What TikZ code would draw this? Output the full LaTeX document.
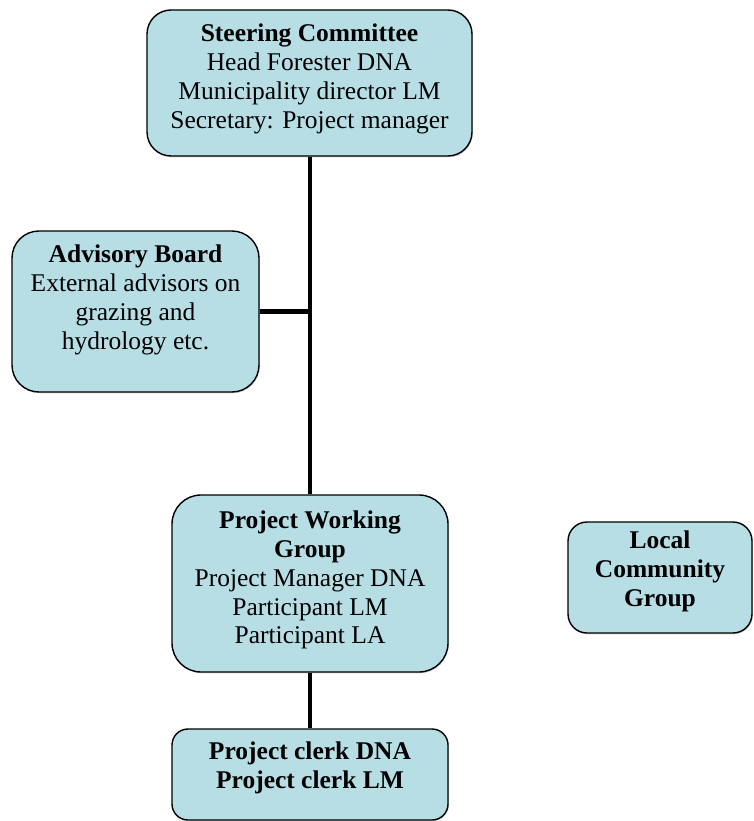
\documentclass[tikz,border=0pt]{standalone}
\usepackage{fontspec}
\setmainfont{Liberation Serif}
\usetikzlibrary{calc,positioning,shadows}
\definecolor{boxblue}{RGB}{183,222,228}
% box text: width, height, top padding, lines
\newcommand{\unittext}[4]{\parbox[c][#2][t]{#1}{\centering\vspace*{#3}#4\par}}

\begin{document}
\begin{tikzpicture}
[x=1pt,y=-1pt,
 unit/.style = {draw=black, line width=1.4pt, fill=boxblue, inner sep=0pt,
   drop shadow={shadow xshift=0.8pt, shadow yshift=-1.3pt, opacity=0.35},
   font=\fontsize{25.5}{28.8}\selectfont},
 link/.style = {line width=4.6pt},]
\useasboundingbox (0,0) rectangle (753,821);
\node (steer) at (309.5,83)[unit,rounded corners=24pt] {\unittext{325pt}{146pt}{14pt}{\textbf{Steering Committee}\\Head Forester DNA\\Municipality director LM\\Secretary: Project manager}};
\node (adv) at (135.5,311.5)[unit,rounded corners=27pt] {\unittext{247pt}{161pt}{14pt}{\textbf{Advisory Board}\\External advisors on\\grazing and\\hydrology etc.}};
\node (pwg) at (310,583.5)[unit,rounded corners=29pt] {\unittext{276pt}{177pt}{16pt}{\textbf{Project Working}\\\textbf{Group}\\Project Manager DNA\\Participant LM\\Participant LA}};
\node (clerk) at (310,774.5)[unit,rounded corners=16pt] {\unittext{276pt}{91pt}{13pt}{\textbf{Project clerk DNA}\\\textbf{Project clerk LM}}};
\node (local) at (660,577.5)[unit,rounded corners=19pt] {\unittext{184pt}{111pt}{9pt}{\textbf{Local}\\\textbf{Community}\\\textbf{Group}}};
\coordinate (joint) at (adv.east -| pwg.north);
\draw[link] (steer.south -| pwg.north) -- (pwg.north);
\draw[link] (adv.east) -- (joint);
\draw[link] (pwg.south) -- (clerk.north);
\end{tikzpicture}
\end{document}
